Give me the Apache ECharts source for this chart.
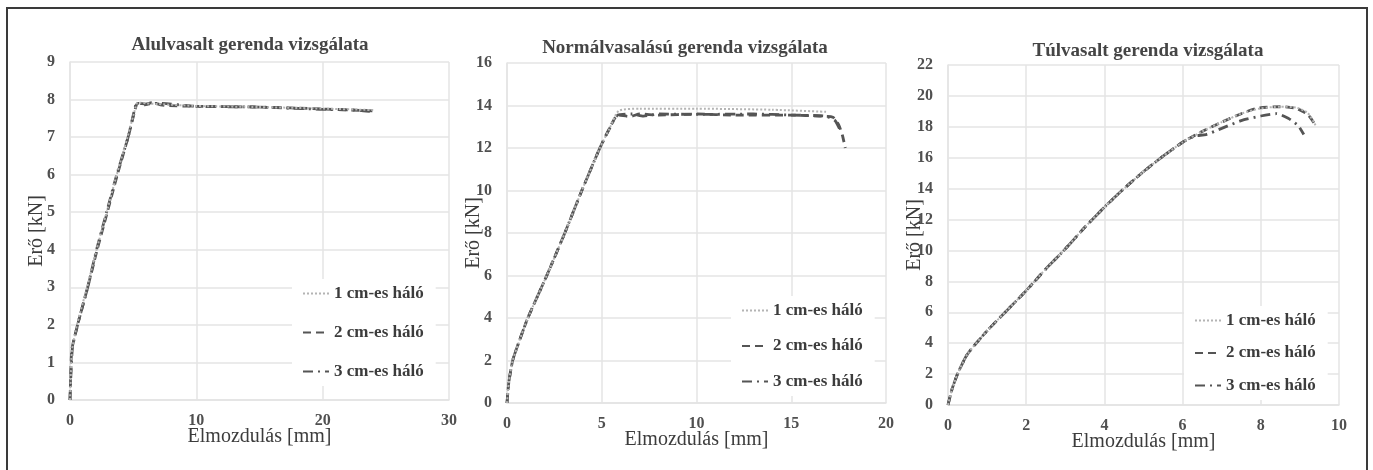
<!DOCTYPE html>
<html>
<head>
<meta charset="utf-8">
<script src="https://cdn.jsdelivr.net/npm/echarts@6/dist/echarts.min.js"></script>
<style>
  html, body { margin: 0; padding: 0; background: #fff; }
  #chart { width: 1373px; height: 470px; }
</style>
</head>
<body>
<div id="chart"></div>
<script>
// series names (legend)
const seriesNames = ['1 cm-es háló', '2 cm-es háló', '3 cm-es háló']

// Alulvasalt gerenda: [elmozdulás mm, erő kN]
const alul1 = [[0, 0], [0.05, 0.5], [0.15, 1.3], [0.55, 2.0], [1.35, 3.0], [2.1, 4.0], [2.9, 5.0], [3.7, 6.0], [4.55, 7.0], [5.2, 7.8], [5.35, 7.92], [6, 7.9], [7, 7.88], [10, 7.83], [15, 7.8], [20, 7.76], [24, 7.72]]
const alul2 = [[0, 0], [0.05, 0.6], [0.15, 1.35], [0.6, 2.0], [1.4, 3.0], [2.15, 4.0], [2.95, 5.0], [3.75, 6.0], [4.6, 7.0], [5.25, 7.85], [5.4, 7.9], [5.9, 7.86], [6.5, 7.92], [7.3, 7.85], [10, 7.82], [15, 7.8], [20, 7.75], [24, 7.7]]
const alul3 = [[0, 0], [0.05, 0.5], [0.2, 1.4], [0.6, 2.0], [1.4, 3.0], [2.1, 4.0], [2.9, 5.0], [3.7, 6.0], [4.6, 7.0], [5.2, 7.85], [5.4, 7.9], [6, 7.88], [7, 7.9], [10, 7.82], [15, 7.8], [20, 7.74], [22.5, 7.72], [24, 7.68]]

// Normálvasalású gerenda
const norm1 = [[0, 0], [0.1, 1.0], [0.3, 2.0], [0.6, 2.8], [1.1, 4.0], [2.1, 6.0], [3.05, 8.0], [3.95, 10.0], [4.9, 12.0], [5.4, 12.9], [5.9, 13.75], [7, 13.85], [10, 13.85], [14, 13.8], [16.9, 13.7]]
const norm2 = [[0, 0], [0.1, 1.0], [0.3, 2.0], [0.6, 2.8], [1.1, 4.0], [2.1, 6.0], [3.05, 8.0], [3.95, 10.0], [4.9, 12.0], [5.4, 12.9], [5.85, 13.55], [6.5, 13.48], [7, 13.6], [8, 13.55], [10, 13.6], [12, 13.55], [15, 13.55], [16.5, 13.5], [17.2, 13.45], [17.5, 13.1], [17.7, 12.6], [17.85, 12.0]]
const norm3 = [[0, 0], [0.1, 1.0], [0.3, 2.0], [0.6, 2.8], [1.1, 4.0], [2.1, 6.0], [3.05, 8.0], [3.95, 10.0], [4.9, 12.0], [5.4, 12.9], [5.85, 13.55], [6.6, 13.6], [7.2, 13.5], [8, 13.6], [10, 13.58], [13, 13.6], [15, 13.55], [16.8, 13.5], [17.3, 13.3], [17.55, 12.9]]

// Túlvasalt gerenda
const tul1 = [[0, 0], [0.1, 1.0], [0.25, 2.05], [0.5, 3.3], [1, 4.8], [1.5, 6.1], [2, 7.4], [2.5, 8.8], [3, 10.1], [3.5, 11.5], [4, 12.8], [4.5, 14.0], [5, 15.1], [5.5, 16.1], [6, 17.0], [6.5, 17.7], [7, 18.3], [7.5, 18.85], [8, 19.2], [8.5, 19.3], [8.9, 19.25], [9.2, 18.9], [9.4, 18.1]]
const tul2 = [[0, 0], [0.1, 1.0], [0.25, 2.05], [0.5, 3.3], [1, 4.8], [1.5, 6.1], [2, 7.4], [2.5, 8.8], [3, 10.1], [3.5, 11.5], [4, 12.8], [4.5, 14.0], [5, 15.1], [5.5, 16.1], [6, 17.0], [6.5, 17.7], [7, 18.3], [7.5, 18.85], [7.9, 19.2], [8.5, 19.3], [8.9, 19.2], [9.2, 18.8], [9.4, 18.1]]
const tul3 = [[0, 0], [0.1, 1.0], [0.25, 2.05], [0.5, 3.3], [1, 4.8], [1.5, 6.1], [2, 7.4], [2.5, 8.8], [3, 10.1], [3.5, 11.5], [4, 12.8], [4.5, 14.0], [5, 15.1], [5.5, 16.1], [6, 17.0], [6.3, 17.4], [6.6, 17.5], [7, 17.9], [7.5, 18.4], [8, 18.7], [8.4, 18.85], [8.7, 18.55], [8.95, 18.1], [9.1, 17.5]]

// axis ranges
const xMax = [30, 20, 10]
const xStep = [10, 5, 2]
const yMax = [9, 16, 22]
const yStep = [1, 2, 2]
const titles = ['Alulvasalt gerenda vizsgálata', 'Normálvasalású gerenda vizsgálata', 'Túlvasalt gerenda vizsgálata']

const FONT = 'Liberation Serif'
const TEXT = '#3c3c3c'
const GRIDLINE = '#e4e4e4'
const LINE = '#555'

const grids = [
    { left: 70, top: 62, width: 379, height: 338 },
    { left: 507, top: 63, width: 379, height: 340 },
    { left: 948, top: 65, width: 391, height: 340 },
]
const titlePos = [[245, 31], [680, 34], [1143, 37]]

const styles = [
    { type: [2, 2], color: '#b4b4b4', width: 2 },
    { type: [8, 5], color: LINE, width: 2.8 },
    { type: [10, 5, 2, 5], color: LINE, width: 2.8 },
]

const panelData = [[alul1, alul2, alul3], [norm1, norm2, norm3], [tul1, tul2, tul3]]

const legendPos = [
    { left: 292, top: 279, itemGap: 22 },
    { left: 731, top: 296, itemGap: 18.5 },
    { left: 1184, top: 306, itemGap: 15.5 },
]

const chart = echarts.init(document.getElementById('chart'))

const option = {
    animation: false,
    backgroundColor: '#fff',
    title: titles.map((t, i) => ({
        text: t,
        left: titlePos[i][0],
        top: titlePos[i][1],
        textAlign: 'center',
        textStyle: { fontFamily: FONT, fontSize: 19, fontWeight: 'bold', color: '#454545' },
    })),
    grid: grids,
    xAxis: grids.map((g, i) => ({
        type: 'value',
        gridIndex: i,
        min: 0,
        max: xMax[i],
        interval: xStep[i],
        name: 'Elmozdulás [mm]',
        nameLocation: 'middle',
        nameGap: 27,
        nameMoveOverlap: false,
        nameTextStyle: { fontFamily: FONT, fontSize: 20, color: TEXT },
        axisLine: { show: true, lineStyle: { color: GRIDLINE, width: 1.5 } },
        axisTick: { show: false },
        axisLabel: { fontFamily: FONT, fontSize: 16, fontWeight: 'bold', color: '#505050', margin: 13 },
        splitLine: { show: true, lineStyle: { color: GRIDLINE, width: 1.5 } },
    })),
    yAxis: grids.map((g, i) => ({
        type: 'value',
        gridIndex: i,
        min: 0,
        max: yMax[i],
        interval: yStep[i],
        name: 'Erő [kN]',
        nameLocation: 'middle',
        nameGap: 23,
        nameMoveOverlap: false,
        nameTextStyle: { fontFamily: FONT, fontSize: 20, color: TEXT },
        axisLine: { show: true, lineStyle: { color: GRIDLINE, width: 1.5 } },
        axisTick: { show: false },
        axisLabel: { fontFamily: FONT, fontSize: 16, fontWeight: 'bold', color: '#505050', margin: 15 },
        splitLine: { show: true, lineStyle: { color: GRIDLINE, width: 1.5 } },
    })),
    legend: legendPos.map((p) => ({
        orient: 'vertical',
        left: p.left,
        top: p.top,
        itemGap: p.itemGap,
        itemWidth: 26,
        itemHeight: 14,
        padding: [6, 12, 6, 10],
        backgroundColor: '#fff',
        itemStyle: { opacity: 0 },
        data: seriesNames,
        textStyle: { fontFamily: FONT, fontSize: 17, fontWeight: 'bold', color: TEXT },
    })),
    series: panelData.flatMap((sets, i) =>
        sets.map((d, j) => ({
            name: seriesNames[j],
            type: 'line',
            xAxisIndex: i,
            yAxisIndex: i,
            data: d,
            symbol: 'none',
            smooth: 0.2,
            lineStyle: styles[j],
            itemStyle: { color: styles[j].color },
            z: 3 - j,
        }))
    ),
    graphic: [
        {
            type: 'rect',
            shape: { x: 7, y: 8, width: 1360, height: 480 },
            style: { fill: 'none', stroke: '#3a3a3a', lineWidth: 2 },
            silent: true,
        },
    ],
}

chart.setOption(option)
</script>
</body>
</html>
